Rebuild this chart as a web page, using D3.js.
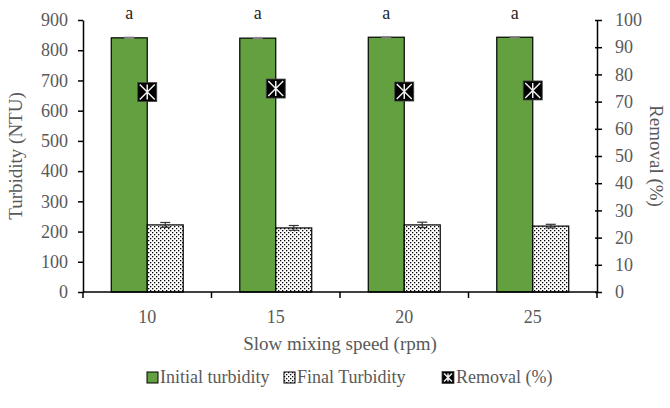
<!DOCTYPE html>
<html><head><meta charset="utf-8">
<script src="https://cdn.jsdelivr.net/npm/d3@7"></script>
<style>body{margin:0;background:#fff}svg{display:block}</style>
</head><body>
<svg id="c" width="670" height="408"></svg>
<script>
const categories = ["10","15","20","25"];
const initialTurbidity = [841, 840, 843, 843];
const initialErr = [2, 2, 2, 2];
const finalTurbidity = [222, 212, 222, 218];
const finalErr = [8, 8, 9, 6];
const removal = [73.5, 74.8, 73.7, 74.1];
const letters = ["a","a","a","a"];
const leftTicks = [0,100,200,300,400,500,600,700,800,900];
const rightTicks = [0,10,20,30,40,50,60,70,80,90,100];

const svg = d3.select("#c");
const W = 670, H = 408;
const m = {l:83, r:73, t:20, b:116};
const x0 = m.l, x1 = W - m.r, yTop = m.t, yBot = H - m.b;
const gray = "#595959", font = "'Liberation Serif', 'Times New Roman', serif";

const x = d3.scaleBand().domain(categories).range([x0, x1]).paddingInner(0.44).paddingOuter(0.22);
const xs = d3.scaleBand().domain(["i","f"]).range([0, x.bandwidth()]);
const yL = d3.scaleLinear().domain([0,900]).range([yBot, yTop]);
const yR = d3.scaleLinear().domain([0,100]).range([yBot, yTop]);

const defs = svg.append("defs");
const pat = defs.append("pattern").attr("id","dots").attr("patternUnits","userSpaceOnUse")
  .attr("width",4).attr("height",4);
pat.append("rect").attr("width",4).attr("height",4).attr("fill","#fff");
pat.append("rect").attr("x",0).attr("y",0).attr("width",1.3).attr("height",1.3).attr("fill","#000");
pat.append("rect").attr("x",2).attr("y",2).attr("width",1.3).attr("height",1.3).attr("fill","#000");

// bars
const g = svg.append("g");
categories.forEach((c,i) => {
  const bx = x(c);
  g.append("rect").attr("x", bx + xs("i")).attr("y", yL(initialTurbidity[i]))
    .attr("width", xs.bandwidth()).attr("height", yBot - yL(initialTurbidity[i]))
    .attr("fill","#63a03f").attr("stroke","#000").attr("stroke-width",1.2);
  g.append("rect").attr("x", bx + xs("f")).attr("y", yL(finalTurbidity[i]))
    .attr("width", xs.bandwidth()).attr("height", yBot - yL(finalTurbidity[i]))
    .attr("fill","url(#dots)").attr("stroke","#000").attr("stroke-width",1.2);
  const ex1 = bx + xs("i") + xs.bandwidth()/2;
  [[ex1, initialTurbidity[i], initialErr[i], "#888"], [bx + xs("f") + xs.bandwidth()/2, finalTurbidity[i], finalErr[i], "#333"]].forEach(([ex, v, e, col]) => {
    g.append("line").attr("x1",ex).attr("x2",ex).attr("y1",yL(v+e)).attr("y2",yL(v-e)).attr("stroke",col).attr("stroke-width",1.2);
    g.append("line").attr("x1",ex-5).attr("x2",ex+5).attr("y1",yL(v+e)).attr("y2",yL(v+e)).attr("stroke",col).attr("stroke-width",1.2);
    g.append("line").attr("x1",ex-5).attr("x2",ex+5).attr("y1",yL(v-e)).attr("y2",yL(v-e)).attr("stroke",col).attr("stroke-width",1.2);
  });
  g.append("text").attr("x", ex1).attr("y", yTop - 1).attr("text-anchor","middle")
    .attr("font-family",font).attr("font-size",18).attr("fill","#262626").text(letters[i]);
});

function marker(sel, cx, cy, s) {
  const h = s/2;
  sel.append("rect").attr("x",cx-h).attr("y",cy-h).attr("width",s).attr("height",s).attr("fill","#000").attr("stroke","#444").attr("stroke-width",0.8);
  const k = h - 2;
  sel.append("path").attr("d",`M${cx-k},${cy-k}L${cx+k},${cy+k}M${cx-k},${cy+k}L${cx+k},${cy-k}M${cx},${cy-k}L${cx},${cy+k}`)
    .attr("stroke","#f0f0f0").attr("stroke-width",1.5);
}
categories.forEach((c,i) => {
  marker(svg, x(c) + x.bandwidth()/2, yR(removal[i]), 19);
});

const axStyle = sel => {
  sel.selectAll("path,line").attr("stroke","#000").attr("stroke-width",1.5);
  sel.selectAll("text").attr("font-family",font).attr("font-size",18).attr("fill",gray);
};
svg.append("g").attr("transform",`translate(${x0},0)`)
  .call(d3.axisLeft(yL).tickValues(leftTicks).tickSize(5).tickSizeOuter(0).tickPadding(10)).call(axStyle);
svg.append("g").attr("transform",`translate(${x1},0)`)
  .call(d3.axisRight(yR).tickValues(rightTicks).tickSize(5).tickSizeOuter(0).tickPadding(13)).call(axStyle)
  .selectAll(".tick line").attr("x1",-2);
const xa = svg.append("g");
xa.append("line").attr("x1",x0).attr("x2",x1).attr("y1",yBot).attr("y2",yBot).attr("stroke","#000").attr("stroke-width",1.5);
const bounds = d3.range(categories.length+1).map(i => x0 + (x1-x0)*i/categories.length);
bounds.forEach(b => xa.append("line").attr("x1",b).attr("x2",b).attr("y1",yBot).attr("y2",yBot+6).attr("stroke","#000").attr("stroke-width",1.5));
categories.forEach(c => xa.append("text").attr("x", x(c)+x.bandwidth()/2).attr("y", yBot+31)
  .attr("text-anchor","middle").attr("font-family",font).attr("font-size",18).attr("fill",gray).text(c));

svg.append("text").attr("x",(x0+x1)/2).attr("y",yBot+58).attr("text-anchor","middle")
  .attr("font-family",font).attr("font-size",19).attr("fill",gray).text("Slow mixing speed (rpm)");
svg.append("text").attr("transform",`translate(22,${(yTop+yBot)/2}) rotate(-90)`).attr("text-anchor","middle")
  .attr("font-family",font).attr("font-size",19).attr("fill",gray).text("Turbidity (NTU)");
svg.append("text").attr("transform",`translate(650,${(yTop+yBot)/2}) rotate(90)`).attr("text-anchor","middle")
  .attr("font-family",font).attr("font-size",19).attr("fill",gray).text("Removal (%)");

const ly = 378;
const lg = svg.append("g");
lg.append("rect").attr("x",147).attr("y",ly-6).attr("width",11).attr("height",11).attr("fill","#63a03f").attr("stroke","#000");
lg.append("text").attr("x",160).attr("y",ly+5).attr("font-family",font).attr("font-size",18).attr("fill",gray).text("Initial turbidity");
lg.append("rect").attr("x",284).attr("y",ly-6).attr("width",11).attr("height",11).attr("fill","url(#dots)").attr("stroke","#000");
lg.append("text").attr("x",297).attr("y",ly+5).attr("font-family",font).attr("font-size",18).attr("fill",gray).text("Final Turbidity");
marker(lg, 448, ly-0.5, 12);
lg.append("text").attr("x",456).attr("y",ly+5).attr("font-family",font).attr("font-size",18).attr("fill",gray).text("Removal (%)");
</script>
</body></html>
